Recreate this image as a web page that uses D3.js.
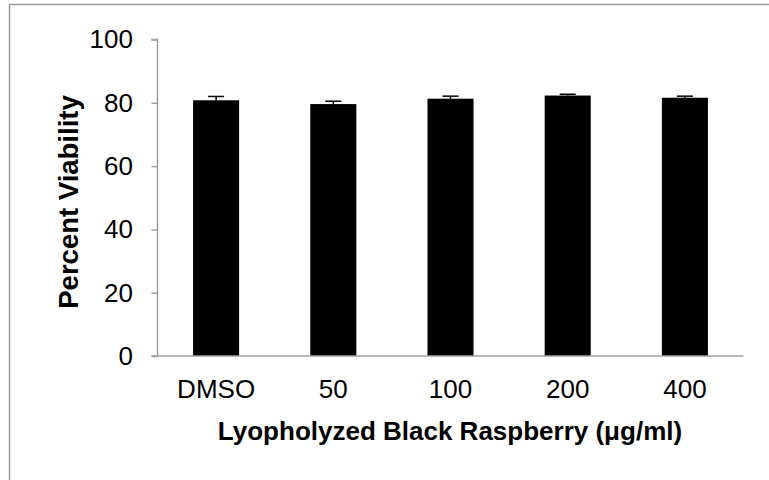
<!DOCTYPE html>
<html>
<head>
<meta charset="utf-8">
<script src="https://cdn.jsdelivr.net/npm/d3@7"></script>
<style>
  body { margin: 0; background: #fff; }
  svg { display: block; font-family: "Liberation Sans", Arial, sans-serif; }
</style>
</head>
<body>
<script>
// chart data
var categories = ["DMSO", "50", "100", "200", "400"];
var viability = [80.8, 79.6, 81.3, 82.3, 81.6];
var errors = [1.2, 0.9, 0.8, 0.4, 0.5];
var yTicks = [0, 20, 40, 60, 80, 100];

var width = 769,
    height = 480;

var svg = d3.select("body").append("svg")
    .attr("width", width)
    .attr("height", height);

// outer chart frame (runs off right and bottom edge)
svg.append("rect")
    .attr("x", 9.5)
    .attr("y", 4.5)
    .attr("width", 800)
    .attr("height", 520)
    .attr("fill", "none")
    .attr("stroke", "#9a9a9a")
    .attr("stroke-width", 1.5);

var x = d3.scaleBand()
    .domain(categories)
    .range([157.5, 743.5])
    .paddingInner(0.607)
    .paddingOuter(0.3035);

var y = d3.scaleLinear()
    .domain([0, 100])
    .range([356, 39.5]);

// y axis
var yAxis = svg.append("g")
    .attr("transform", "translate(157.5,0)")
    .call(d3.axisLeft(y).tickValues(yTicks).tickSize(6).tickPadding(18.5));
yAxis.select(".domain").attr("stroke", "#a0a0a0").attr("stroke-width", 1.5)
    .attr("d", "M-6,39.5H0V356");
yAxis.selectAll(".tick line").attr("stroke", "#a0a0a0").attr("stroke-width", 1.5);
yAxis.selectAll(".tick text")
    .attr("font-size", 26)
    .attr("fill", "#000")
    .attr("font-family", "Liberation Sans, Arial, sans-serif");

// bars
svg.selectAll("rect.bar")
    .data(viability)
    .enter().append("rect")
    .attr("class", "bar")
    .attr("x", function(d, i) { return x(categories[i]); })
    .attr("y", function(d) { return y(d); })
    .attr("width", x.bandwidth())
    .attr("height", function(d) { return y(0) - y(d); })
    .attr("fill", "#000");

// error bars (upper only)
var err = svg.selectAll("g.err")
    .data(viability)
    .enter().append("g")
    .attr("class", "err");
err.append("line")
    .attr("x1", function(d, i) { return x(categories[i]) + x.bandwidth() / 2; })
    .attr("x2", function(d, i) { return x(categories[i]) + x.bandwidth() / 2; })
    .attr("y1", function(d) { return y(d); })
    .attr("y2", function(d, i) { return y(d + errors[i]); })
    .attr("stroke", "#000")
    .attr("stroke-width", 1.5);
err.append("line")
    .attr("x1", function(d, i) { return x(categories[i]) + x.bandwidth() / 2 - 8; })
    .attr("x2", function(d, i) { return x(categories[i]) + x.bandwidth() / 2 + 8; })
    .attr("y1", function(d, i) { return y(d + errors[i]); })
    .attr("y2", function(d, i) { return y(d + errors[i]); })
    .attr("stroke", "#000")
    .attr("stroke-width", 1.5);

// x axis
var xAxis = svg.append("g")
    .attr("transform", "translate(0,356)")
    .call(d3.axisBottom(x).tickSize(0).tickPadding(23.5));
xAxis.select(".domain").attr("stroke", "#a0a0a0").attr("stroke-width", 1.5)
    .attr("d", "M151.5,0H743.5");
xAxis.selectAll(".tick text")
    .attr("font-size", 26)
    .attr("fill", "#000")
    .attr("font-family", "Liberation Sans, Arial, sans-serif");

// axis titles
svg.append("text")
    .attr("x", 450)
    .attr("y", 440)
    .attr("text-anchor", "middle")
    .attr("font-size", 26)
    .attr("font-weight", "bold")
    .text("Lyopholyzed Black Raspberry (\u03bcg/ml)");

svg.append("text")
    .attr("transform", "translate(78,202) rotate(-90)")
    .attr("text-anchor", "middle")
    .attr("font-size", 27.5)
    .attr("font-weight", "bold")
    .text("Percent Viability");
</script>
</body>
</html>
